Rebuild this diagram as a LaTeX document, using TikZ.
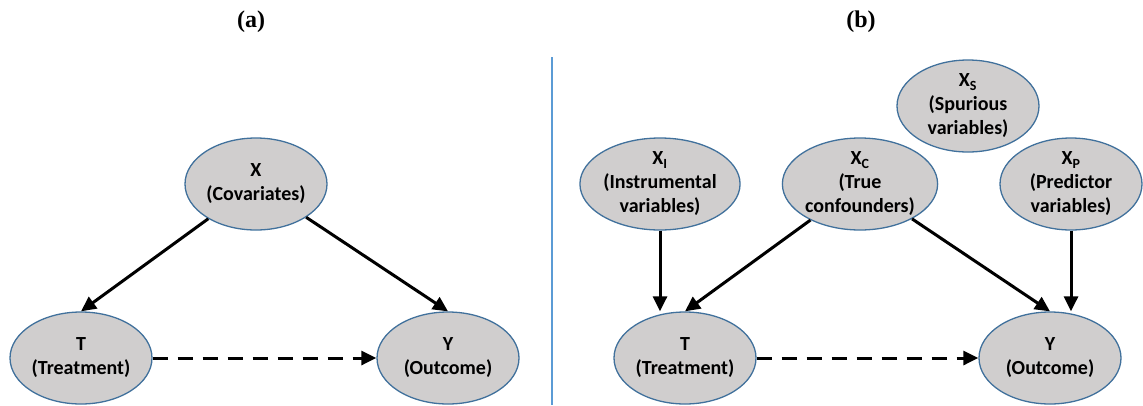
\documentclass[tikz,border=0pt]{standalone}
\usepackage{fontspec}
\setmainfont{Carlito}
\newfontfamily\timesf{Liberation Serif}
\usetikzlibrary{shapes.geometric,arrows.meta}
\definecolor{ellfill}{HTML}{D0CECE}
\definecolor{ellline}{HTML}{41719C}
\definecolor{sepline}{HTML}{5B9BD5}
\begin{document}
\begin{tikzpicture}[x=1pt,y=-1pt,
  var/.style={ellipse, draw=ellline, line width=1.3pt, fill=ellfill,
    minimum width=142pt, minimum height=92pt, inner sep=0pt, align=center,
    font=\fontsize{20}{24}\selectfont\bfseries, text=black},
  arr/.style={line width=3pt, -{Triangle[length=15pt,width=14pt]}},
  dasharr/.style={arr, dash pattern=on 15pt off 10pt},
  panel/.style={font=\timesf\bfseries\fontsize{24}{28}\selectfont}]
\useasboundingbox (0,0) rectangle (1143,405);
% panel labels
\node[panel] (la) at (251,22) {(a)};
\node[panel] (lb) at (861,22) {(b)};
% separator
\coordinate (sTop) at (552,57);
\coordinate (sBot) at (552,405);
\draw[sepline, line width=1.5pt] (sTop) -- (sBot);
% panel (a)
\node[var] (X) at (256,184) {X\\(Covariates)};
\node[var] (T1) at (81,358) {T\\(Treatment)};
\node[var] (Y1) at (448,358) {Y\\(Outcome)};
\draw[arr] (X) -- (T1.north);
\draw[arr] (X) -- (Y1.north);
\draw[dasharr] (T1) -- (Y1);
% panel (b)
\node[var] (XI) at (660,184) {X\textsubscript{I}\\(Instrumental\\variables)};
\node[var] (XC) at (860,184) {X\textsubscript{C}\\(True\\confounders)};
\node[var] (XS) at (968,106) {X\textsubscript{S}\\(Spurious\\variables)};
\node[var] (XP) at (1071,184) {X\textsubscript{P}\\(Predictor\\variables)};
\node[var] (T2) at (685,358) {T\\(Treatment)};
\node[var] (Y2) at (1050,358) {Y\\(Outcome)};
\draw[arr] (XI.south) -- (XI.south |- T2.north);
\draw[arr] (XC) -- (T2.north);
\draw[arr] (XC) -- (Y2.north);
\draw[arr] (XP.south) -- (XP.south |- Y2.north);
\draw[dasharr] (T2) -- (Y2);
\end{tikzpicture}
\end{document}
